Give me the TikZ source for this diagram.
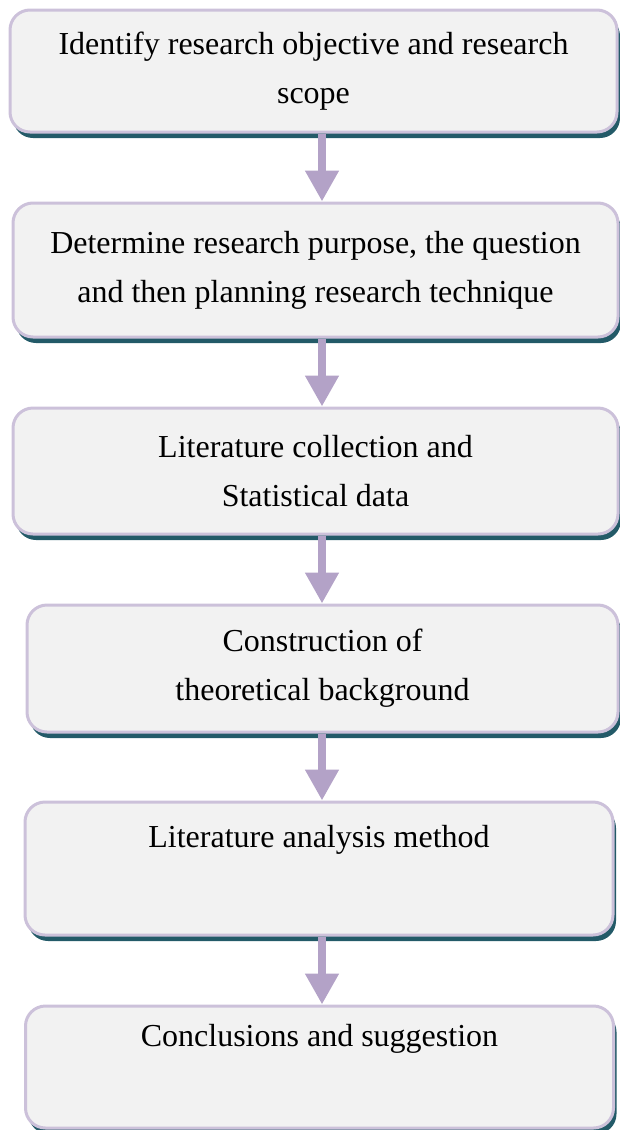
\documentclass[tikz,border=0pt]{standalone}
\usepackage{fontspec}
\setmainfont{Liberation Serif}
\usetikzlibrary{arrows.meta,shadows}

\definecolor{boxfill}{HTML}{F2F2F2}
\definecolor{boxline}{HTML}{CCC1DA}
\definecolor{boxshade}{HTML}{235A68}
\definecolor{arrowlilac}{HTML}{B3A2C7}

\begin{document}
\begin{tikzpicture}[x=0.5pt,y=-0.5pt,
  stage/.style={draw=boxline, line width=1.5pt, fill=boxfill,
    rounded corners=10pt, align=center,
    font=\fontsize{16}{24.5}\selectfont,
    general shadow={fill=boxshade, shadow xshift=1.5pt, shadow yshift=-3pt}},
  flow/.style={arrowlilac, line width=4pt,
    -{Triangle[width=16pt,length=15.5pt]}}]
  \useasboundingbox (0,0) rectangle (620,1130);
  % The steps, top to bottom.
  \node[stage, minimum width=303.5pt, minimum height=61pt] (objective)
    at (313.5,71) {Identify research objective and research\\scope};
  \node[stage, minimum width=302.5pt, minimum height=67pt] (purpose)
    at (315.5,270) {Determine research purpose, the question\\and then planning research technique};
  \node[stage, minimum width=302.5pt, minimum height=63pt] (literature)
    at (315.5,471) {Literature collection and\\Statistical data};
  \node[stage, minimum width=295.5pt, minimum height=63.5pt] (theory)
    at (322.5,668.5) {Construction of\\theoretical background};
  \node[stage, minimum width=294pt, minimum height=66.5pt] (analysis)
    at (319,868.5) {Literature analysis method\\\strut};
  \node[stage, minimum width=294pt, minimum height=61pt] (conclusion)
    at (319.5,1067) {Conclusions and suggestion\\\strut};
  % Arrows between the steps.
  \coordinate (axis) at (322,0);
  \foreach \a/\b in {objective/purpose, purpose/literature, literature/theory,
                     theory/analysis, analysis/conclusion}
    \draw[flow] (\a.south -| axis) -- (\b.north -| axis);
\end{tikzpicture}
\end{document}
